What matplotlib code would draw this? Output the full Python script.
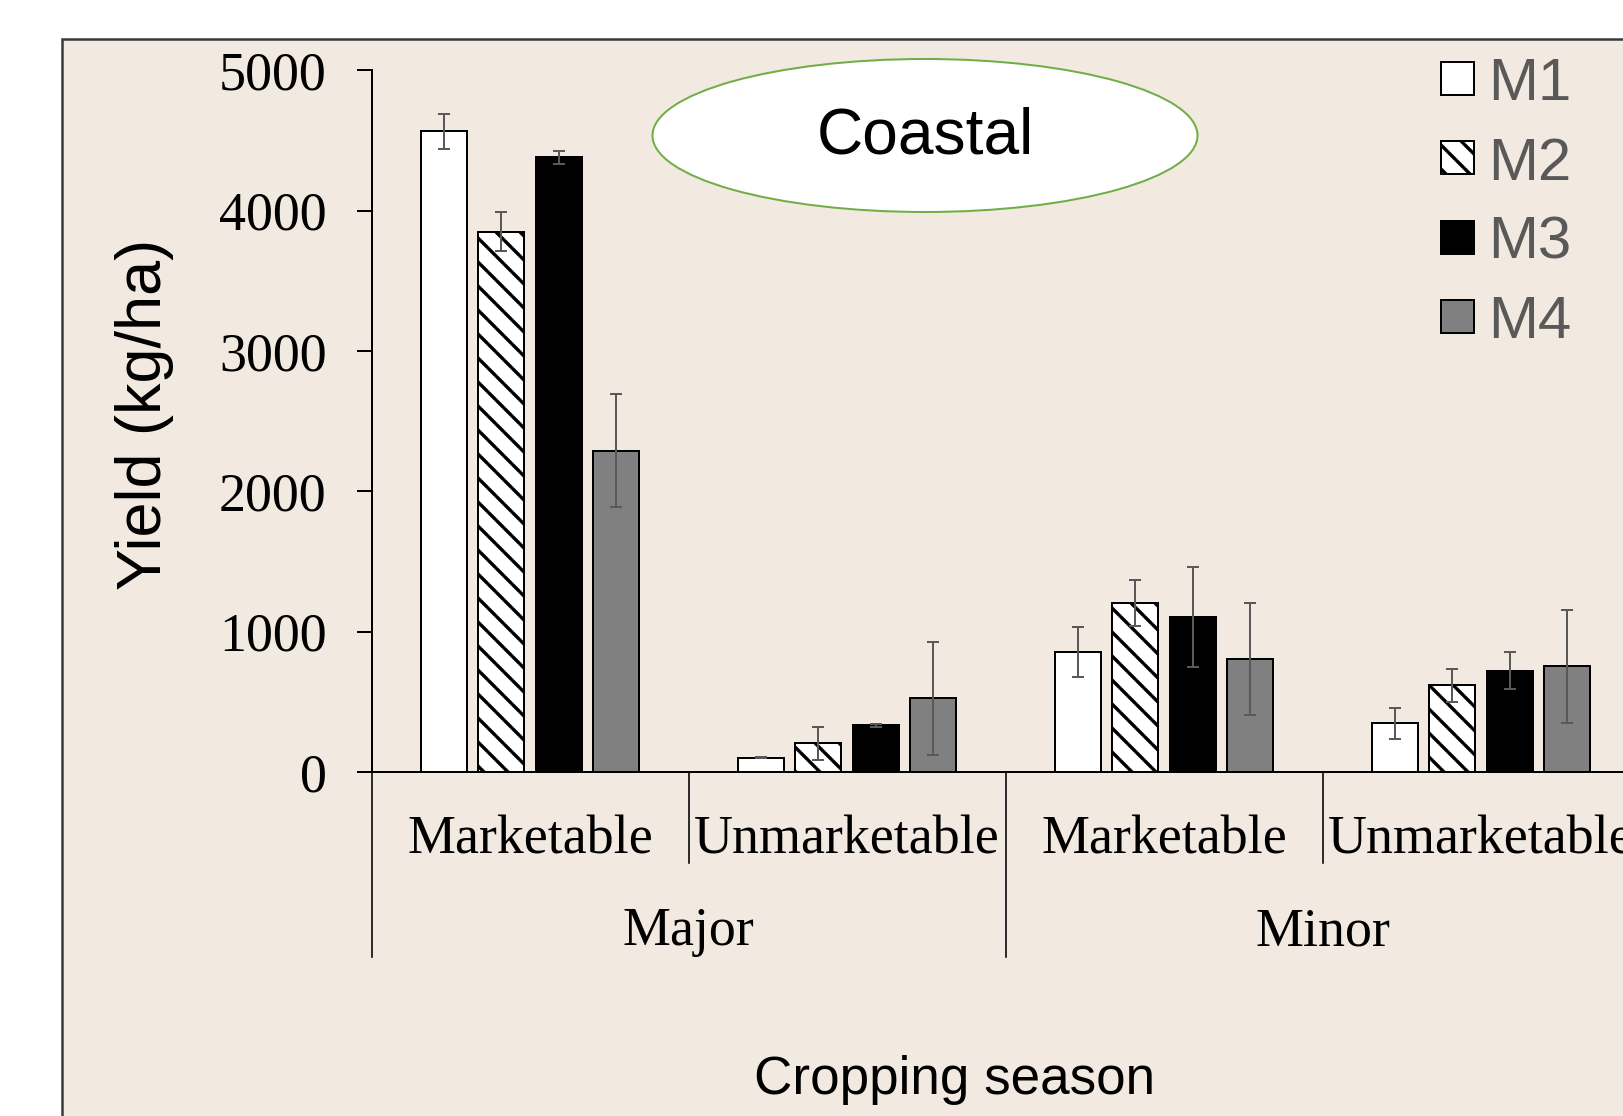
import numpy as np
import matplotlib
matplotlib.use('Agg')
import matplotlib.pyplot as plt
from matplotlib.patches import Rectangle, Ellipse

''' ______________________ DATA ___________________________'''
categories = ['Marketable', 'Unmarketable', 'Marketable', 'Unmarketable']
seasons = ['Major', 'Minor']
series = ['M1', 'M2', 'M3', 'M4']

m1 = [4565, 103, 855, 347]
m1_err = [125, 5, 180, 110]
m2 = [3850, 206, 1202, 619]
m2_err = [140, 118, 165, 118]
m3 = [4380, 332, 1106, 723]
m3_err = [45, 10, 357, 129]
m4 = [2290, 524, 804, 752]
m4_err = [405, 405, 400, 405]

yticks = [0, 1000, 2000, 3000, 4000, 5000]

''' ______________________ STYLE ___________________________'''
DPI = 72
W, H = 1623, 1116
def pt(px):  # pixel -> points
    return px * 72.0 / DPI

serif = 'Liberation Serif'   # Times New Roman look-alike
sans = 'Liberation Sans'     # Arial look-alike
bg = '#F2E9E0'
fills = ['white', 'white', 'black', '#808080']
hatches = [None, '\\', None, None]

plt.rcParams['hatch.linewidth'] = pt(3.4)

fig = plt.figure(figsize=(W / DPI, H / DPI), dpi=DPI)
fig.patch.set_facecolor('white')

# chart area frame (runs off the right and bottom of the picture)
frame = Rectangle((62 / W, -0.1), 1.2, 1 - 39 / H + 0.1, transform=fig.transFigure,
                  facecolor=bg, edgecolor='#3a3a3a', lw=pt(2.5), zorder=-1)
fig.patches.append(frame)

# axes: x spans 4 categories of ~317 px starting at x=372
ax = fig.add_axes([371.6 / W, (H - 772) / H, 1268 / W, 701.6 / H])
ax.set_facecolor('none')

x = np.arange(len(categories)) + 0.5
pitch = 0.1808
bw = 0.145
vals = [m1, m2, m3, m4]
errs = [m1_err, m2_err, m3_err, m4_err]
for i in range(4):
    pos = x + (i - 1.5) * pitch
    ax.bar(pos, vals[i], bw, color=fills[i], edgecolor='black', hatch=hatches[i],
           lw=pt(2), zorder=2)
    ax.errorbar(pos, vals[i], yerr=errs[i], fmt='none', ecolor='#595959',
                elinewidth=pt(2), capsize=pt(6), capthick=pt(2), zorder=3)

ax.set_xlim(0, 4)
ax.set_ylim(0, 5000)
ax.set_yticks(yticks)
ax.set_xticks([])
for s in ['top', 'right']:
    ax.spines[s].set_visible(False)
ax.spines['left'].set_linewidth(pt(2))
ax.spines['bottom'].set_linewidth(pt(2))
ax.tick_params(axis='y', direction='out', length=pt(15), width=pt(2), pad=pt(30),
               labelsize=pt(54))
for lab in ax.get_yticklabels():
    lab.set_fontfamily(serif)

# multi-level category axis
tr = ax.get_xaxis_transform()
depths = [-0.2637, -0.1297, -0.2637, -0.1297, -0.2637]
for xd, d in zip(range(5), depths):
    ax.plot([xd, xd], [0, d], transform=tr, color='black', lw=pt(1.6), clip_on=False)
for xc, cat in zip(x, categories):
    ax.text(xc, -0.1155, cat, transform=tr, ha='center', va='baseline',
            fontsize=pt(54), family=serif)
for j, s in enumerate(seasons):
    ax.text(1 + 2 * j, -0.2466, s, transform=tr, ha='center', va='baseline',
            fontsize=pt(54), family=serif)

fig.text(145 / W, 1 - 414 / H, 'Yield (kg/ha)', rotation=90, ha='center', va='center',
         fontsize=pt(63), family=sans)
fig.text(955 / W, 1 - 1080 / H, 'Cropping season', ha='center', va='center',
         fontsize=pt(53), family=sans)

# "Coastal" ellipse
ell = Ellipse((925 / W, 1 - 135.5 / H), 545 / W, 153 / H, transform=fig.transFigure,
              facecolor='white', edgecolor='#70AD47', lw=pt(2), zorder=2)
fig.patches.append(ell)
fig.text(925 / W, 1 - 136 / H, 'Coastal', ha='center', va='center',
         fontsize=pt(64), family=sans, zorder=3)

# legend
for i, name in enumerate(series):
    yc = 78 + 79.5 * i
    p = Rectangle((1441 / W, 1 - (yc + 16.5) / H), 33 / W, 33 / H, transform=fig.transFigure,
                  facecolor=fills[i], edgecolor='black', hatch=hatches[i], lw=pt(2), zorder=2)
    fig.patches.append(p)
    fig.text(1488 / W, 1 - (yc + 22) / H, name, ha='left', va='baseline', color='#595959',
             fontsize=pt(60), family=sans, zorder=3)

fig.savefig('out.png', dpi=DPI, facecolor=fig.get_facecolor())
